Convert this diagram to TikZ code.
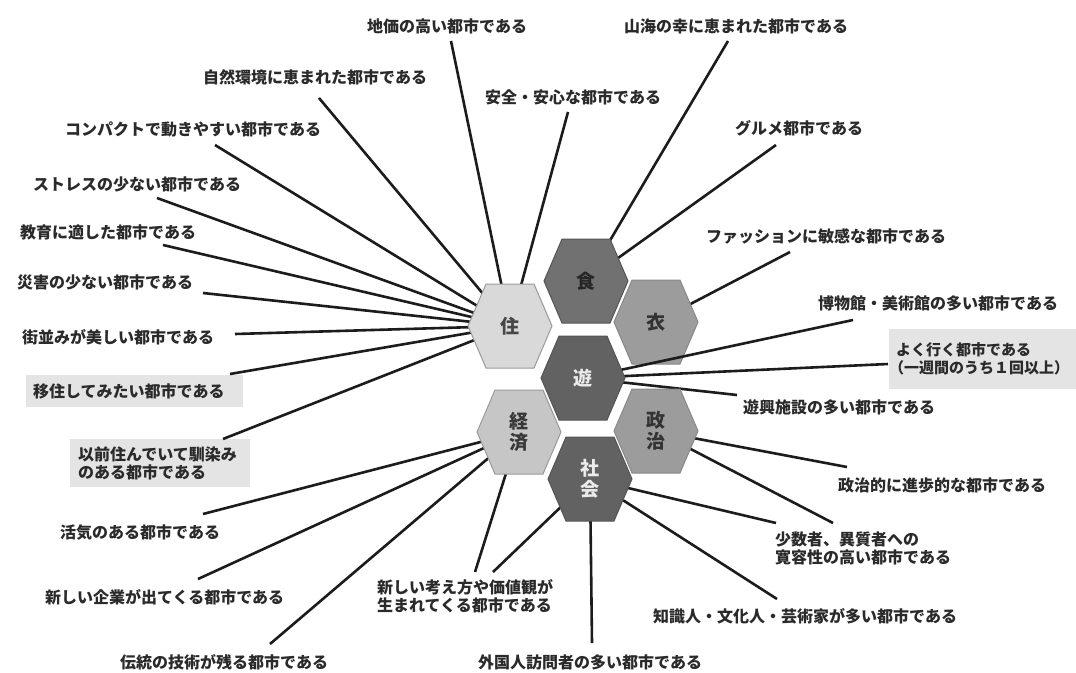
\documentclass[tikz,border=0pt]{standalone}
\usepackage{fontspec}
\setmainfont{Noto Sans CJK JP}
\usetikzlibrary{calc}
\definecolor{lbl}{HTML}{2A2A2A}
\definecolor{boxgray}{HTML}{E4E4E4}
\definecolor{linecol}{HTML}{1C1C1C}
\definecolor{hexA}{HTML}{D9D9D9}
\definecolor{hexB}{HTML}{C6C6C6}
\definecolor{hexC}{HTML}{9C9C9C}
\definecolor{hexD}{HTML}{717171}
\definecolor{hexE}{HTML}{626262}
\definecolor{edgeL}{HTML}{9A9A9A}
\definecolor{edgeD}{HTML}{555555}
\begin{document}
\begin{tikzpicture}[x=1pt,y=-1pt,
  conn/.style={line width=2.6pt, draw=linecol},
  lab/.style={anchor=west, inner sep=0pt, text=lbl, font=\fontsize{16}{18}\selectfont\bfseries, align=left},
  boxlab/.style={lab, fill=boxgray},
  hexagon/.pic={\path[pic actions] (-42,0) -- (-24,-42) -- (24,-42) -- (42,0) -- (24,42) -- (-24,42) -- cycle;},
  hexlab/.style={inner sep=0pt, font=\fontsize{19}{21}\selectfont\bfseries, align=center}]
\useasboundingbox (0,0) rectangle (1076,672);
\fill[white] (0,0) rectangle (1076,672);

% hexagon centres
\coordinate (ju) at (510,326);
\coordinate (shoku) at (586,281);
\coordinate (i) at (656,322);
\coordinate (yu) at (583,378);
\coordinate (kei) at (519,432);
\coordinate (sei) at (656,431);
\coordinate (sha) at (590,479);

% labels
\node[lab] (a1) at (367,26) {地価の高い都市である};
\node[lab] (a2) at (203,77) {自然環境に恵まれた都市である};
\node[lab] (a3) at (485,97) {安全・安心な都市である};
\node[lab] (a4) at (65,129) {コンパクトで動きやすい都市である};
\node[lab] (a5) at (33,184) {ストレスの少ない都市である};
\node[lab] (a6) at (20,232) {教育に適した都市である};
\node[lab] (a7) at (17,282) {災害の少ない都市である};
\node[lab] (a8) at (22,337) {街並みが美しい都市である};
\node[boxlab, inner xsep=7pt, minimum height=32pt, text width=203pt] (a9) at (26,391) {移住してみたい都市である};
\node[boxlab, inner xsep=8pt, minimum height=48pt, text width=164pt] (a10) at (70,463) {以前住んでいて馴染み\\のある都市である};

\node[lab] (b1) at (624,26) {山海の幸に恵まれた都市である};
\node[lab] (b2) at (735,128) {グルメ都市である};
\node[lab] (c1) at (706,236) {ファッションに敏感な都市である};
\node[lab] (d1) at (818,303) {博物館・美術館の多い都市である};
\node[boxlab, inner xsep=7pt, minimum height=60pt, minimum width=184pt, font=\fontsize{15}{18}\selectfont\bfseries] (d2) at (889,359) {よく行く都市である\\\hspace*{-7pt}（一週間のうち１回以上）};
\node[lab] (d3) at (743,407) {遊興施設の多い都市である};
\node[lab] (e1) at (838,485) {政治的に進歩的な都市である};
\node[lab] (f1) at (775,548) {少数者、異質者への\\寛容性の高い都市である};
\node[lab] (f2) at (653,616) {知識人・文化人・芸術家が多い都市である};
\node[lab] (f3) at (478,662) {外国人訪問者の多い都市である};
\node[lab] (f4) at (377,596) {新しい考え方や価値観が\\生まれてくる都市である};
\node[lab] (g1) at (60,533) {活気のある都市である};
\node[lab] (g2) at (45,597) {新しい企業が出てくる都市である};
\node[lab] (g3) at (120,662) {伝統の技術が残る都市である};

% connector free ends
\coordinate (pa1) at (451,41);
\coordinate (pa2) at (319,98);
\coordinate (pa3) at (568,112);
\coordinate (pa4) at (215,145);
\coordinate (pa5) at (157,198);
\coordinate (pa6) at (163,245);
\coordinate (pa7) at (203,293);
\coordinate (pa8) at (235,334);
\coordinate (pa9) at (230,374);
\coordinate (pa10) at (223,439);
\coordinate (pb1) at (728,41);
\coordinate (pb2) at (776,145);
\coordinate (pc1) at (790,252);
\coordinate (pd1) at (853,320);
\coordinate (pd2) at (888,364);
\coordinate (pd3) at (737,395);
\coordinate (pe1) at (847,467);
\coordinate (pe2) at (833,523);
\coordinate (pf1) at (776,523);
\coordinate (pf2) at (777,599);
\coordinate (pf3) at (592,643);
\coordinate (pf4) at (493,572);
\coordinate (pg4) at (475,572);
\coordinate (pg1) at (203,514);
\coordinate (pg2) at (198,579);
\coordinate (pg3) at (270,644);

% 住
\foreach \p in {pa1,pa2,pa3,pa4,pa5,pa6,pa7,pa8,pa9,pa10} \draw[conn] (\p) -- (ju);
\pic[fill=hexA, draw=edgeL, line width=1pt] at (ju) {hexagon};
\node[hexlab, text=black!72] (tju) at (ju) {住};
% 食
\foreach \p in {pb1,pb2} \draw[conn] (\p) -- (shoku);
\pic[fill=hexD, draw=edgeD, line width=1pt] at (shoku) {hexagon};
\node[hexlab, text=black!85] (tshoku) at (shoku) {食};
% 衣
\draw[conn] (pc1) -- (i);
\pic[fill=hexC, draw=edgeD!70, line width=1pt] at (i) {hexagon};
\node[hexlab, text=black!80] (ti) at (i) {衣};
% 遊
\foreach \p in {pd1,pd2,pd3} \draw[conn] (\p) -- (yu);
\pic[fill=hexE, draw=edgeD, line width=1pt] at (yu) {hexagon};
\node[hexlab, text=white!92!black] (tyu) at (yu) {遊};
% 経済
\foreach \p in {pg1,pg2,pg3,pg4} \draw[conn] (\p) -- (kei);
\pic[fill=hexB, draw=edgeL, line width=1pt] at (kei) {hexagon};
\node[hexlab, text=black!78] (tkei) at (kei) {経\\済};
% 政治
\foreach \p in {pe1,pe2} \draw[conn] (\p) -- (sei);
\pic[fill=hexC, draw=edgeD!70, line width=1pt] at (sei) {hexagon};
\node[hexlab, text=black!80] (tsei) at (sei) {政\\治};
% 社会
\foreach \p in {pf1,pf2,pf3,pf4} \draw[conn] (\p) -- (sha);
\pic[fill=hexE, draw=edgeD, line width=1pt] at (sha) {hexagon};
\node[hexlab, text=white!92!black] (tsha) at (sha) {社\\会};
\end{tikzpicture}
\end{document}
